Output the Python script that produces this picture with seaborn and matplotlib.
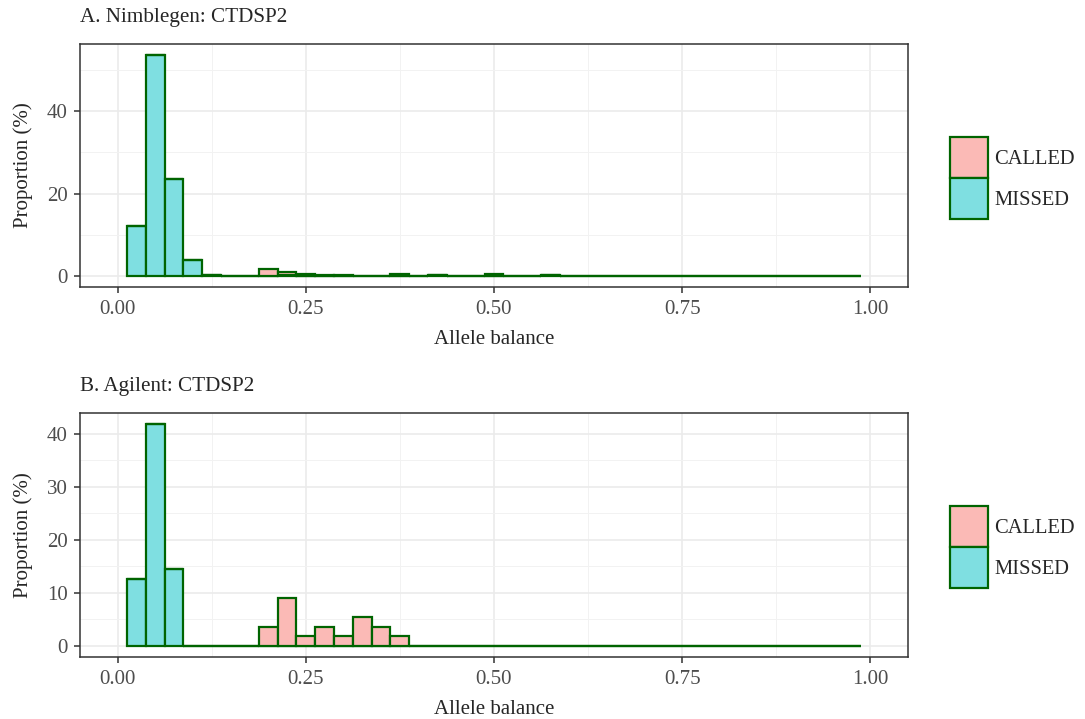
import matplotlib
matplotlib.use("Agg")
import matplotlib.pyplot as plt
from matplotlib.patches import Patch
import numpy as np
import pandas as pd
import seaborn as sns

# bins of width 0.025, centred on 0.025 ... 0.975
bin_edges = list(np.arange(0.0125, 1.0, 0.025))
bin_centers = [0.025, 0.05, 0.075, 0.1, 0.125, 0.15, 0.175, 0.2, 0.225, 0.25,
               0.275, 0.3, 0.325, 0.35, 0.375, 0.4, 0.425, 0.45, 0.475, 0.5,
               0.525, 0.55, 0.575, 0.6, 0.625, 0.65, 0.675, 0.7, 0.725, 0.75,
               0.775, 0.8, 0.825, 0.85, 0.875, 0.9, 0.925, 0.95, 0.975]

# A. Nimblegen (% of variants)
called_a = [0, 0, 0, 0, 0, 0, 0, 1.8, 0.85, 0.5, 0.3, 0.3, 0.1, 0.1, 0.6, 0, 0, 0, 0, 0.6,
            0, 0, 0, 0, 0, 0, 0, 0, 0, 0, 0, 0, 0, 0, 0, 0, 0, 0, 0]
missed_a = [12.2, 53.6, 23.5, 3.9, 0.15, 0, 0, 0, 0.15, 0, 0, 0, 0, 0, 0, 0, 0.2, 0, 0, 0,
            0, 0, 0.2, 0, 0, 0, 0, 0, 0, 0, 0, 0, 0, 0, 0, 0, 0, 0, 0]

# B. Agilent (% of variants)
called_b = [0, 0, 0, 0, 0, 0, 0, 3.6, 9.1, 1.8, 3.6, 1.8, 5.5, 3.6, 1.8, 0, 0, 0, 0, 0,
            0, 0, 0, 0, 0, 0, 0, 0, 0, 0, 0, 0, 0, 0, 0, 0, 0, 0, 0]
missed_b = [12.7, 41.8, 14.5, 0, 0, 0, 0, 0, 0, 0, 0, 0, 0, 0, 0, 0, 0, 0, 0, 0,
            0, 0, 0, 0, 0, 0, 0, 0, 0, 0, 0, 0, 0, 0, 0, 0, 0, 0, 0]

titles = ["A. Nimblegen: CTDSP2", "B. Agilent: CTDSP2"]
status_levels = ["CALLED", "MISSED"]
fill_colors = {"CALLED": "#FBBAB6", "MISSED": "#7FDFE1"}
edge_col = "#006400"

sns.set_theme(style="white")
plt.rcParams["font.family"] = ["Liberation Serif", "DejaVu Serif"]
plt.rcParams["axes.edgecolor"] = "#333333"

fig = plt.figure(figsize=(10.85, 7.19), dpi=100)
ax_a = fig.add_axes([0.0737, 0.6008, 0.7631, 0.338])
ax_b = fig.add_axes([0.0737, 0.0862, 0.7631, 0.3394])

panels = [(ax_a, called_a, missed_a, [0, 20, 40], [10, 30, 50], 0.7524),
          (ax_b, called_b, missed_b, [0, 10, 20, 30, 40], [5, 15, 25, 35], 0.2392)]

for i, (ax, called, missed, yt, ymin_t, leg_y) in enumerate(panels):
    df = pd.DataFrame({
        "ab": bin_centers + bin_centers,
        "status": ["CALLED"] * len(bin_centers) + ["MISSED"] * len(bin_centers),
        "pct": called + missed,
    })
    sns.histplot(data=df, x="ab", hue="status", weights="pct", bins=bin_edges,
                 multiple="stack", hue_order=status_levels, palette=fill_colors,
                 edgecolor=edge_col, linewidth=1.6, alpha=1, legend=False, ax=ax,
                 zorder=3)
    top = max(np.array(called) + np.array(missed))
    ax.set_xlim(-0.05, 1.05)
    ax.set_ylim(-0.05 * top, 1.05 * top)
    ax.set_xticks([0, 0.25, 0.5, 0.75, 1.0])
    ax.set_xticklabels(["0.00", "0.25", "0.50", "0.75", "1.00"])
    ax.set_xticks([0.125, 0.375, 0.625, 0.875], minor=True)
    ax.set_yticks(yt)
    ax.set_yticks(ymin_t, minor=True)
    ax.grid(True, which="major", color="#EBEBEB", linewidth=1.2, zorder=0)
    ax.grid(True, which="minor", color="#F2F2F2", linewidth=0.7, zorder=0)
    ax.set_axisbelow(True)
    ax.tick_params(axis="both", which="major", length=4, width=1.1, color="#333333",
                   labelsize=15, labelcolor="#4D4D4D", pad=5, bottom=True, left=True)
    ax.tick_params(axis="both", which="minor", length=0)
    for sp in ax.spines.values():
        sp.set_linewidth(1.1)
        sp.set_color("#333333")
    ax.set_xlabel("Allele balance", fontsize=15, labelpad=8)
    ax.set_ylabel("Proportion (%)", fontsize=15, labelpad=10)
    ax.set_title(titles[i], loc="left", fontsize=15.2, pad=16, x=0.0)

    handles = [Patch(facecolor=fill_colors[s], edgecolor=edge_col, linewidth=1.6)
               for s in status_levels]
    fig.legend(handles, status_levels, loc="center left", bbox_to_anchor=(0.868, leg_y),
               frameon=False, fontsize=14.8, handlelength=1.85, handleheight=2.7,
               labelspacing=0.0, handletextpad=0.3, borderaxespad=0)

fig.savefig("out.png", dpi=100)
